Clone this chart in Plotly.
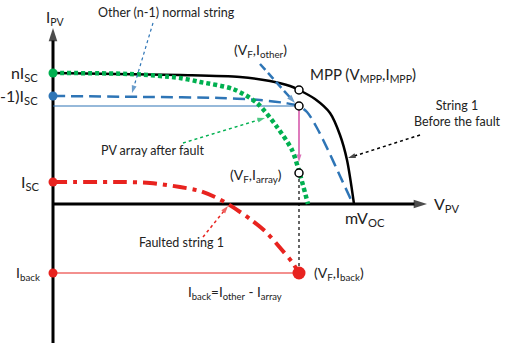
import plotly.graph_objects as go

# ---- data (V in arbitrary units, I in arbitrary units) ----
V_string1 = [0, 127, 187, 217, 237, 246, 262, 277, 287, 294, 301]
I_string1 = [131, 129, 127, 123, 118, 114, 105, 91, 69, 44, 0]

V_other = [0, 97, 167, 207, 232, 246, 254, 264, 275, 287, 300]
I_other = [108, 107, 106, 104, 101, 98, 92, 76, 54, 28, 0]

V_array = [0, 77, 127, 147, 180, 204, 224, 239, 246, 255]
I_array = [131, 130, 126, 122, 115, 101, 77, 54, 33, 0]

V_fault = [0, 67, 97, 127, 147, 162, 175, 197, 214, 229, 239, 246]
I_fault = [22, 22, 21, 17, 13, 7, 0, -15, -29, -46, -58, -69]

nISC, n1ISC, ISC = 131, 108, 22
VF = 246
I_MPP, I_oth, I_arr, I_back = 114, 98, 31, -69
mVOC = 301

BLUE = "#2e75b6"
GREEN = "#00b050"
RED = "#e8231f"
MAG = "#cc3399"
FONT = "Lato"

fig = go.Figure()

def arrow_line(x, y, color, width, dash="solid", head=9):
    fig.add_trace(go.Scatter(
        x=x, y=y, mode="lines+markers",
        line=dict(color=color, width=width, dash=dash),
        marker=dict(symbol=["circle", "arrow"], size=[0, head], color=color,
                    angleref="previous", line=dict(width=0)),
        hoverinfo="skip", showlegend=False))

def line(x, y, color, width, dash="solid", shape="linear"):
    fig.add_trace(go.Scatter(x=x, y=y, mode="lines",
                             line=dict(color=color, width=width, dash=dash, shape=shape, smoothing=0.8),
                             hoverinfo="skip", showlegend=False))

# axes
arrow_line([0, 0], [-140, 176], "black", 3, head=14)
arrow_line([0, 374], [0, 0], "black", 3, head=14)

# horizontal / vertical helper lines
line([0, VF], [I_oth, I_oth], BLUE, 1.2)
line([0, VF], [I_back, I_back], RED, 1.2)
line([VF, VF], [I_arr, I_back], "black", 1.2, dash="dot")
arrow_line([VF, VF], [I_oth, 42], MAG, 1.3, head=8)

# curves
line(V_string1, I_string1, "black", 2.5, shape="spline")
line(V_other, I_other, BLUE, 2.5, dash="12px,6px", shape="spline")
line(V_array, I_array, GREEN, 4.5, dash="4px,3px", shape="spline")
line(V_fault, I_fault, RED, 4, dash="14px,6px,4px,6px", shape="spline")

# pointer arrows
arrow_line([100, 79], [181, 111], BLUE, 1.2, dash="dot", head=8)
arrow_line([207, 242], [140, 101], BLUE, 2.5, dash="8px,4px", head=9)
arrow_line([367, 295], [69, 46], "black", 1.5, dash="dot", head=8)
arrow_line([130, 212], [61, 86], GREEN, 1.5, dash="dot", head=8)
arrow_line([150, 175], [-33, -2], RED, 1.5, dash="dot", head=8)

# dots on axis
fig.add_trace(go.Scatter(x=[0, 0, 0, 0], y=[nISC, n1ISC, ISC, I_back], mode="markers",
                         marker=dict(size=9, color=[GREEN, BLUE, RED, RED]),
                         hoverinfo="skip", showlegend=False))
fig.add_trace(go.Scatter(x=[VF], y=[I_back], mode="markers",
                         marker=dict(size=13, color=RED), hoverinfo="skip", showlegend=False))
fig.add_trace(go.Scatter(x=[VF, VF, VF], y=[I_MPP, I_oth, I_arr], mode="markers",
                         marker=dict(size=8, color="white", line=dict(color="black", width=1.5)),
                         hoverinfo="skip", showlegend=False))

def txt(x, y, s, size=13, xa="center", ya="middle", align="center"):
    fig.add_annotation(x=x, y=y, text=s, showarrow=False, xanchor=xa, yanchor=ya,
                       align=align, font=dict(family=FONT, size=size, color="#222222"))

txt(2, 186, "I<sub>PV</sub>", 15)
txt(-13, nISC, "nI<sub>SC</sub>", 16, xa="right")
txt(-13, n1ISC, "(n-1)I<sub>SC</sub>", 16, xa="right")
txt(-11, ISC, "I<sub>SC</sub>", 16, xa="right")
txt(-11, I_back, "I<sub>back</sub>", 14, xa="right")
txt(290, -14, "mV<sub>OC</sub>", 16, xa="left")
txt(379, 0, "V<sub>PV</sub>", 16, xa="left")
txt(113, 192, "Other (n-1) normal string", 12.5)
txt(207, 154, "(V<sub>F</sub>,I<sub>other</sub>)", 14)
txt(255, 129, "MPP (V<sub>MPP</sub>,I<sub>MPP</sub>)", 15, xa="left")
txt(404, 91, "String 1<br>Before the fault", 12.5)
txt(99, 54, "PV array after fault", 12.5)
txt(203, 29, "(V<sub>F</sub>,I<sub>array</sub>)", 14)
txt(128, -38, "Faulted string 1", 12.5)
txt(259, I_back, "(V<sub>F</sub>,I<sub>back</sub>)", 14, xa="left")
txt(182, -89, "I<sub>back</sub>=I<sub>other</sub> - I<sub>array</sub>", 13.5)

fig.update_layout(
    width=516, height=343, margin=dict(l=0, r=0, t=0, b=0),
    paper_bgcolor="white", plot_bgcolor="white",
    xaxis=dict(range=[-53, 463], visible=False, fixedrange=True),
    yaxis=dict(range=[-139, 204], visible=False, fixedrange=True),
    showlegend=False,
)

fig.write_html("out.html", config={"displayModeBar": False},
               post_script="document.body.style.margin='0';document.body.style.overflow='hidden';")
